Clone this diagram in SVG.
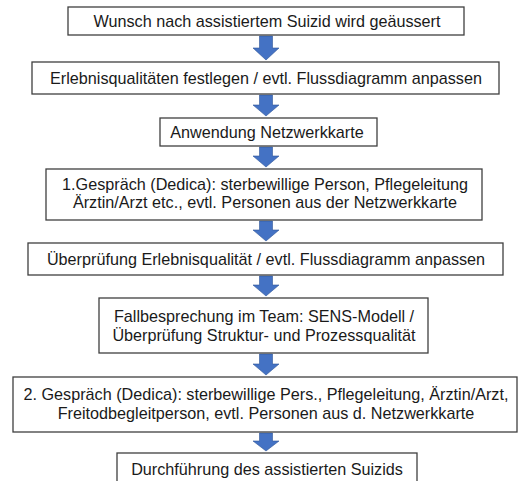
<svg xmlns="http://www.w3.org/2000/svg" width="519" height="481" viewBox="0 0 519 481">
<style>
.box{fill:#fff;stroke:#3f3f3f;stroke-width:1.3}
.t{font-family:"Liberation Sans",Arial,sans-serif;font-size:16.2px;fill:#1a1a1a;text-anchor:middle}
.arr{fill:#4472c4;stroke:#2f5597;stroke-width:0.6}
</style>
<rect width="519" height="481" fill="#fff"/>
<g id="connectors">
<polygon class="arr" points="259.5,36 272.5,36 272.5,48 279,48 266,60 253,48 259.5,48"/>
<polygon class="arr" points="259.5,95 272.5,95 272.5,105 279,105 266,116 253,105 259.5,105"/>
<polygon class="arr" points="259.5,147 272.5,147 272.5,156 279,156 266,167 253,156 259.5,156"/>
<polygon class="arr" points="259.5,221 272.5,221 272.5,230 279,230 266,241 253,230 259.5,230"/>
<polygon class="arr" points="259.5,276 272.5,276 272.5,285 279,285 266,296 253,285 259.5,285"/>
<polygon class="arr" points="259.5,354 272.5,354 272.5,364 279,364 266,375 253,364 259.5,364"/>
<polygon class="arr" points="259.5,433 272.5,433 272.5,441 279,441 266,451 253,441 259.5,441"/>
</g>
<g id="n1"><rect class="box" x="68" y="7" width="396" height="28"/><text class="t" x="267" y="27">Wunsch nach assistiertem Suizid wird geäussert</text></g>
<g id="n2"><rect class="box" x="32" y="62" width="467" height="32"/><text class="t" x="266" y="84">Erlebnisqualitäten festlegen / evtl. Flussdiagramm anpassen</text></g>
<g id="n3"><rect class="box" x="160" y="118" width="217" height="28"/><text class="t" x="267" y="138">Anwendung Netzwerkkarte</text></g>
<g id="n4"><rect class="box" x="46" y="169" width="436" height="51"/><text class="t" x="265" y="190">1.Gespräch (Dedica): sterbewillige Person, Pflegeleitung</text><text class="t" x="265" y="208">Ärztin/Arzt etc., evtl. Personen aus der Netzwerkkarte</text></g>
<g id="n5"><rect class="box" x="28" y="243" width="475" height="32"/><text class="t" x="266" y="265">Überprüfung Erlebnisqualität / evtl. Flussdiagramm anpassen</text></g>
<g id="n6"><rect class="box" x="99" y="298" width="329" height="55"/><text class="t" x="264" y="322">Fallbesprechung im Team: SENS-Modell /</text><text class="t" x="264" y="341">Überprüfung Struktur- und Prozessqualität</text></g>
<g id="n7"><rect class="box" x="13" y="377" width="504" height="55"/><text class="t" x="266" y="400">2. Gespräch (Dedica): sterbewillige Pers., Pflegeleitung, Ärztin/Arzt,</text><text class="t" x="266" y="419">Freitodbegleitperson, evtl. Personen aus d. Netzwerkkarte</text></g>
<g id="n8"><rect class="box" x="117" y="453" width="300" height="32"/><text class="t" x="267" y="475">Durchführung des assistierten Suizids</text></g>
</svg>
